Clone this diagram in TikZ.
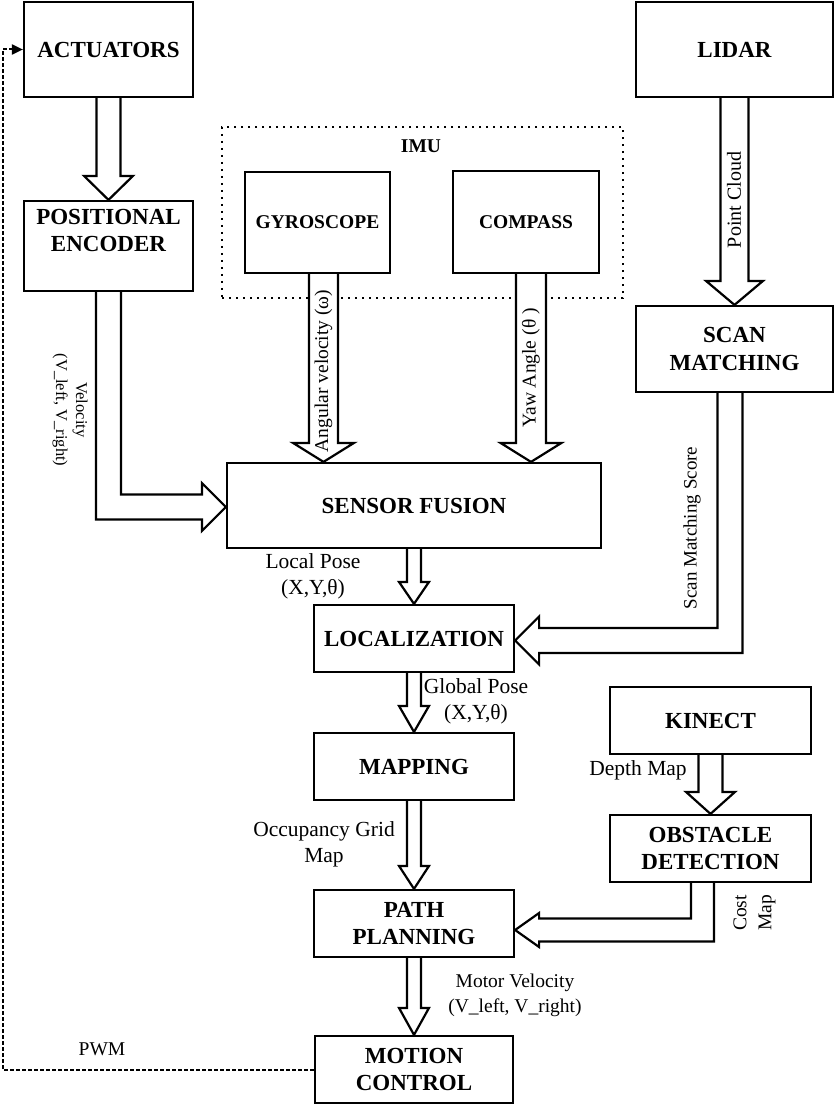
\documentclass[tikz,border=0pt]{standalone}
\usepackage{fontspec}
\setmainfont{Liberation Serif}
\usetikzlibrary{calc,arrows.meta}

\newcommand\boxfont{\fontsize{23}{27.5}\selectfont\bfseries}
\newcommand\smallboxfont{\fontsize{19.5}{23}\selectfont\bfseries}
\newcommand\labelfont{\fontsize{21.5}{26}\selectfont}
\newcommand\sidefont{\fontsize{19.5}{25}\selectfont}
\newcommand\tinyfont{\fontsize{16.5}{20}\selectfont}

\begin{document}
\begin{tikzpicture}[y=-1pt,x=1pt,
	box/.style={draw, line width=2.2pt, fill=white, align=center, inner sep=0pt, font=\boxfont},
	imubox/.style={draw, line width=2.4pt, dash pattern=on 2.4pt off 4.6pt, inner sep=0pt},
	blockarrow/.style={draw, line width=2.2pt, fill=white, line join=miter},
	feedback/.style={line width=2pt, dash pattern=on 3.5pt off 2.5pt},
	lbl/.style={font=\labelfont, align=center, inner sep=0pt}]
	\newcommand\DownArrow[6]{\draw[blockarrow] let \p1=($(#1.south)+(#3,0)$), \p2=(#2.north) in
		(\x1-#4pt,\y1) -- (\x1-#4pt,\y2+#6pt) -- (\x1-#5pt,\y2+#6pt) -- (\x1,\y2)
		-- (\x1+#5pt,\y2+#6pt) -- (\x1+#4pt,\y2+#6pt) -- (\x1+#4pt,\y1);}
	\newcommand\RightElbow[7]{\draw[blockarrow] let \p1=($(#1.south)+(#3,0)$), \p2=($(#2.west)+(0,#7)$) in
		(\x1-#4pt,\y1) -- (\x1-#4pt,\y2-#4pt) -- (\x2-#6pt,\y2-#4pt) -- (\x2-#6pt,\y2-#5pt) -- (\x2,\y2)
		-- (\x2-#6pt,\y2+#5pt) -- (\x2-#6pt,\y2+#4pt) -- (\x1+#4pt,\y2+#4pt) -- (\x1+#4pt,\y1);}
	\newcommand\LeftElbow[7]{\draw[blockarrow] let \p1=($(#1.south)+(#3,0)$), \p2=($(#2.east)+(0,#7)$) in
		(\x1+#4pt,\y1) -- (\x1+#4pt,\y2-#4pt) -- (\x2+#6pt,\y2-#4pt) -- (\x2+#6pt,\y2-#5pt) -- (\x2,\y2)
		-- (\x2+#6pt,\y2+#5pt) -- (\x2+#6pt,\y2+#4pt) -- (\x1-#4pt,\y2+#4pt) -- (\x1-#4pt,\y1);}

	\useasboundingbox (0,0) rectangle (835,1108);

	\node[box, minimum width=169, minimum height=95] (act) at (108.5,49.5) {ACTUATORS};
	\node[box, minimum width=169, minimum height=90,
		label={[font=\boxfont, align=center, anchor=north, inner sep=0pt, yshift=-9pt]north:POSITIONAL\\ENCODER}] (enc) at (108.5,246) {};
	\node[imubox, minimum width=401, minimum height=171] (imu) at (422.5,212.5) {};
	\node[font=\smallboxfont, inner sep=0pt] (imutitle) at (421,146) {IMU};
	\node[box, font=\smallboxfont, minimum width=145, minimum height=101] (gyro) at (317.5,222.5) {GYROSCOPE};
	\node[box, font=\smallboxfont, minimum width=146, minimum height=102] (comp) at (526,222) {COMPASS};
	\node[box, minimum width=197, minimum height=95] (lidar) at (734.5,49.5) {LIDAR};
	\node[box, minimum width=197, minimum height=86] (scan) at (734.5,349) {SCAN\\MATCHING};
	\node[box, minimum width=374, minimum height=85] (sf) at (414,505.5) {SENSOR FUSION};
	\node[box, minimum width=200, minimum height=67] (loc) at (414,638.5) {LOCALIZATION};
	\node[box, minimum width=200, minimum height=67] (map) at (414,766.5) {MAPPING};
	\node[box, minimum width=200, minimum height=67] (pp) at (414,923.5) {PATH\\PLANNING};
	\node[box, minimum width=198, minimum height=67] (mc) at (414,1069.5) {MOTION\\CONTROL};
	\node[box, minimum width=201, minimum height=67] (kin) at (710.5,720.5) {KINECT};
	\node[box, minimum width=201, minimum height=67] (od) at (710.5,848.5) {OBSTACLE\\DETECTION};

	\DownArrow{act}{enc}{0}{12}{24.5}{24}
	\DownArrow{gyro}{sf}{6}{14.5}{30.5}{19}
	\DownArrow{comp}{sf}{5}{15}{30.5}{19}
	\DownArrow{lidar}{scan}{0}{14}{28.5}{24}
	\DownArrow{sf}{loc}{0}{7}{15}{22}
	\DownArrow{loc}{map}{0}{7}{15}{26}
	\DownArrow{map}{pp}{0}{7}{15}{23}
	\DownArrow{pp}{mc}{0}{7}{15}{27}
	\DownArrow{kin}{od}{0}{12}{24.5}{22}
	\RightElbow{enc}{sf}{0}{12.5}{24}{24}{1.5}
	\LeftElbow{scan}{loc}{-4.5}{12.5}{24}{24}{2}
	\LeftElbow{od}{pp}{-8}{11.5}{17}{24}{6.5}

	\coordinate (fbx) at (2.5,0);
	\draw[feedback, -{Triangle[length=11pt,width=10pt]}] (mc.west) -- (mc.west -| fbx) |- (act.west);

	\node[lbl, font=\tinyfont, rotate=-90] (vel) at (70,410) {Velocity\\(V\_left, V\_right)};
	\node[lbl, font=\sidefont, rotate=90] (angv) at (323.5,371) {Angular velocity (ω)};
	\node[lbl, font=\sidefont, rotate=90] (yaw) at (531,368) {Yaw Angle (θ )};
	\node[lbl, font=\fontsize{20}{24}\selectfont, rotate=90] (pc) at (734,200) {Point Cloud};
	\node[lbl, font=\fontsize{19}{23}\selectfont, rotate=90] (sms) at (692,528) {Scan Matching Score};
	\node[lbl] (lp) at (313,576) {Local Pose\\(X,Y,θ)};
	\node[lbl] (gp) at (476,701.5) {Global Pose\\(X,Y,θ)};
	\node[lbl] (ogm) at (324,844) {Occupancy Grid\\Map};
	\node[lbl] (dm) at (638,770) {Depth Map};
	\node[lbl, font=\sidefont, rotate=90] (cm) at (754.5,913) {Cost\\Map};
	\node[lbl, font=\sidefont] (mv) at (515,995.5) {Motor Velocity\\(V\_left, V\_right)};
	\node[lbl, font=\sidefont] (pwm) at (102,1049) {PWM};
\end{tikzpicture}
\end{document}
